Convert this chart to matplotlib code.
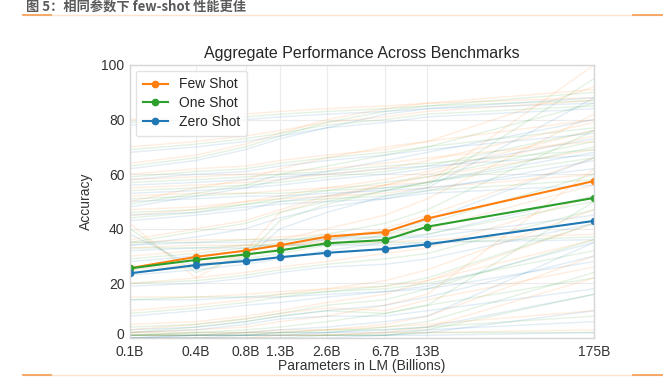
import matplotlib
matplotlib.use("Agg")
import matplotlib.pyplot as plt
import matplotlib.transforms as mtransforms
from matplotlib.lines import Line2D

plt.rcParams['font.family'] = ['Liberation Sans', 'DejaVu Sans']

# model sizes (billions) and how they are labelled on the axis
params = [0.125, 0.35, 0.76, 1.3, 2.7, 6.7, 13, 175]
tick_labels = ["0.1B", "0.4B", "0.8B", "1.3B", "2.6B", "6.7B", "13B", "175B"]

# aggregate accuracy
few_shot = [25.6, 29.7, 32.0, 34.0, 37.1, 38.8, 43.8, 57.5]
one_shot = [25.5, 28.6, 30.6, 32.1, 34.7, 35.9, 40.8, 51.3]
zero_shot = [23.7, 26.7, 28.2, 29.6, 31.2, 32.6, 34.3, 42.9]

# per-benchmark curves drawn faintly behind (rough reads)
bench_few = [
    [64, 67, 71, 75, 80, 84, 86, 88],
    [70, 72, 74, 76, 79, 81, 83, 87],
    [50, 55, 58, 62, 66, 70, 72, 92],
    [58, 59, 60, 61, 62, 64, 66, 72],
    [35, 36, 36, 37, 38, 38, 40, 56],
    [2, 3, 4, 6, 8, 12, 16, 62],
    [1, 1, 2, 2, 3, 5, 8, 30],
    [0, 0, 0, 1, 1, 2, 4, 22],
    [45, 47, 50, 52, 55, 58, 61, 76],
    [25, 27, 30, 33, 36, 40, 45, 66],
    [10, 12, 14, 16, 18, 21, 25, 47],
    [5, 6, 8, 10, 13, 16, 21, 42],
    [20, 22, 24, 26, 28, 31, 33, 52],
    [55, 56, 57, 58, 60, 62, 65, 79],
    [30, 32, 34, 36, 40, 45, 51, 82],
    [15, 15, 16, 17, 18, 19, 21, 36],
    [80, 81, 82, 83, 84, 85, 86, 91],
    [42, 22, 32, 46, 51, 56, 59, 69],
    [1, 1, 1, 1, 1, 2, 2, 3],
    [33, 34, 34, 34, 35, 35, 36, 38],
    [52, 53, 53, 54, 55, 56, 57, 100],
    [3, 5, 7, 9, 11, 10, 14, 26],
    [60, 62, 63, 65, 67, 69, 72, 80],
    [47, 48, 50, 51, 52, 53, 55, 60],
    [2, 2, 2, 3, 3, 4, 5, 10],
    [36, 40, 43, 47, 52, 56, 60, 74],
]
bench_one = [
    [63, 66, 70, 74, 79, 83, 85, 87],
    [69, 71, 73, 75, 78, 80, 82, 85],
    [49, 53, 56, 60, 63, 67, 70, 86],
    [57, 58, 59, 60, 61, 63, 64, 69],
    [35, 35, 36, 36, 37, 37, 38, 50],
    [1, 2, 3, 4, 6, 9, 12, 50],
    [1, 1, 1, 2, 2, 4, 6, 24],
    [0, 0, 0, 0, 1, 1, 3, 16],
    [44, 46, 49, 51, 54, 57, 59, 72],
    [24, 26, 29, 31, 34, 38, 42, 60],
    [9, 11, 13, 15, 17, 19, 22, 42],
    [4, 5, 7, 9, 12, 14, 18, 36],
    [20, 21, 23, 25, 27, 29, 31, 47],
    [54, 55, 56, 57, 59, 61, 63, 76],
    [29, 31, 33, 35, 38, 42, 47, 76],
    [14, 15, 15, 16, 17, 18, 20, 32],
    [79, 80, 81, 82, 83, 84, 85, 90],
    [40, 24, 30, 43, 49, 54, 57, 66],
    [1, 1, 1, 1, 1, 1, 2, 2],
    [33, 33, 34, 34, 34, 35, 35, 37],
    [51, 52, 53, 53, 54, 55, 56, 95],
    [2, 4, 6, 8, 10, 9, 12, 22],
    [59, 61, 62, 64, 66, 68, 70, 77],
    [46, 47, 49, 50, 51, 52, 54, 58],
    [1, 2, 2, 2, 3, 3, 4, 8],
    [35, 39, 42, 46, 50, 54, 57, 70],
]
bench_zero = [
    [62, 65, 69, 73, 77, 82, 84, 86],
    [68, 70, 72, 74, 77, 79, 81, 84],
    [48, 52, 55, 58, 61, 65, 68, 80],
    [56, 57, 58, 59, 60, 62, 63, 67],
    [34, 35, 35, 36, 36, 37, 37, 45],
    [0, 1, 2, 3, 4, 6, 8, 35],
    [0, 1, 1, 1, 2, 3, 4, 16],
    [0, 0, 0, 0, 0, 1, 2, 10],
    [43, 45, 47, 50, 52, 55, 57, 68],
    [23, 25, 27, 29, 32, 35, 38, 52],
    [8, 10, 12, 13, 15, 17, 19, 35],
    [3, 4, 6, 8, 10, 12, 15, 30],
    [19, 20, 22, 24, 26, 27, 29, 42],
    [53, 54, 55, 56, 58, 60, 62, 73],
    [28, 30, 32, 34, 36, 39, 43, 66],
    [14, 14, 15, 15, 16, 17, 18, 28],
    [78, 79, 80, 81, 82, 83, 84, 88],
    [38, 26, 29, 40, 46, 52, 55, 62],
    [0, 0, 1, 1, 1, 1, 1, 2],
    [32, 33, 33, 34, 34, 34, 35, 36],
    [50, 51, 52, 52, 53, 54, 55, 88],
    [2, 3, 5, 7, 8, 8, 10, 18],
    [58, 60, 61, 63, 65, 67, 69, 75],
    [45, 46, 48, 49, 50, 51, 53, 56],
    [1, 1, 1, 2, 2, 2, 3, 6],
    [34, 37, 40, 44, 48, 51, 54, 65],
]

ORANGE = "#ff7f0e"
GREEN = "#2ca02c"
BLUE = "#1f77b4"

fig = plt.figure(figsize=(6.63, 3.79), dpi=100)

# page header
fig.text(26 / 663, 1 - 7 / 379, "图 5：相同参数下 few-shot 性能更佳",
         family=['Noto Sans CJK SC', 'DejaVu Sans'], fontsize=9.5,
         fontweight='semibold', color='#5a5a5a', va='center', ha='left')
for y in (15, 375):
    yy = 1 - y / 379
    fig.add_artist(Line2D([23 / 663, 662 / 663], [yy, yy], color='#fde3cf', lw=1))
    fig.add_artist(Line2D([23 / 663, 51 / 663], [yy, yy], color='#f5a25d', lw=1.3))
    fig.add_artist(Line2D([633 / 663, 662 / 663], [yy, yy], color='#f5a25d', lw=1.3))

ax = fig.add_axes([130 / 663, 1 - 338 / 379, 464 / 663, 273 / 379])

for vals in bench_few:
    ax.plot(params, vals, color=ORANGE, alpha=0.13, lw=1)
for vals in bench_one:
    ax.plot(params, vals, color=GREEN, alpha=0.13, lw=1)
for vals in bench_zero:
    ax.plot(params, vals, color=BLUE, alpha=0.13, lw=1)

ax.plot(params, few_shot, color=ORANGE, marker='o', ms=4.5, lw=1.5, label="Few Shot")
ax.plot(params, one_shot, color=GREEN, marker='o', ms=4.5, lw=1.5, label="One Shot")
ax.plot(params, zero_shot, color=BLUE, marker='o', ms=4.5, lw=1.5, label="Zero Shot")

ax.set_xscale('log')
ax.set_xlim(params[0], params[-1])
ax.set_ylim(0, 100)
ax.set_xticks(params)
ax.set_xticklabels(tick_labels)
ax.minorticks_off()
ax.set_yticks([0, 20, 40, 60, 80, 100])
ax.tick_params(length=0, labelsize=10, colors='#333333')
ax.tick_params(axis='x', pad=5)
ax.tick_params(axis='y', pad=4)
ax.grid(True, color='#ececec', lw=0.8)
ax.set_axisbelow(True)
for s in ax.spines.values():
    s.set_color('#d6d6d6')
    s.set_linewidth(1)

# nudge the "0" label up a little so it sits clear of "0.1B"
lift = mtransforms.ScaledTranslation(0, 3 / 72, fig.dpi_scale_trans)
zero_lbl = ax.get_yticklabels()[0]
zero_lbl.set_transform(zero_lbl.get_transform() + lift)

ax.set_title("Aggregate Performance Across Benchmarks", fontsize=11.5,
             color='#262626', pad=5)
ax.set_xlabel("Parameters in LM (Billions)", fontsize=10, color='#333333', labelpad=0)
ax.set_ylabel("Accuracy", fontsize=10, color='#333333', labelpad=6)

leg = ax.legend(loc='upper left', fontsize=10, frameon=True, handlelength=1.8,
                handletextpad=0.8, borderpad=0.5, labelspacing=0.35,
                borderaxespad=0.4)
leg.get_frame().set_edgecolor('#dddddd')
for t in leg.get_texts():
    t.set_color('#262626')

fig.savefig("out.png", dpi=100)
